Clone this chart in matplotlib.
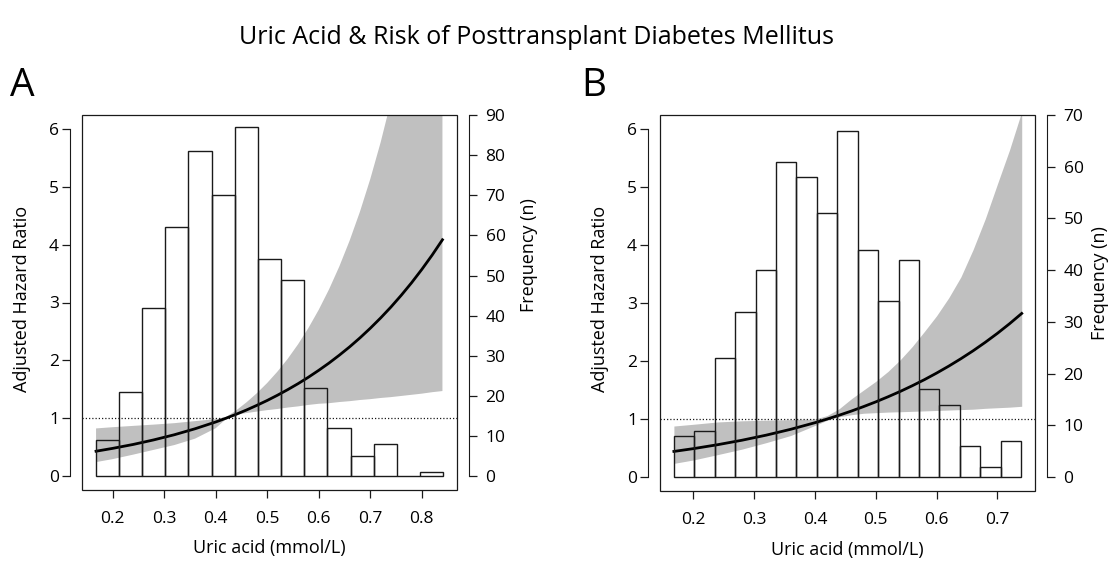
import matplotlib.pyplot as plt
import numpy as np
from matplotlib.patches import Rectangle

plt.rcParams["font.family"] = ["Open Sans", "DejaVu Sans"]

# ---- panel A: histogram of uric acid (counts) and adjusted HR curve ----
a_bins = (0.1677, 0.8413)
a_counts = [9, 21, 42, 62, 81, 70, 87, 54, 49, 22, 12, 5, 8, 0, 1]
a_x = [0.168, 0.20, 0.24, 0.28, 0.32, 0.36, 0.40, 0.42, 0.44, 0.46,
       0.48, 0.50, 0.52, 0.54, 0.56, 0.58, 0.60, 0.62, 0.64, 0.66,
       0.68, 0.70, 0.72, 0.74, 0.76, 0.78, 0.80, 0.82, 0.84]
a_hr = [0.430, 0.479, 0.547, 0.626, 0.715, 0.818, 0.935, 1.000, 1.069, 1.143,
        1.223, 1.307, 1.398, 1.495, 1.598, 1.709, 1.828, 1.954, 2.090, 2.234,
        2.389, 2.555, 2.732, 2.921, 3.124, 3.340, 3.572, 3.819, 4.084]
a_lo = [0.242, 0.293, 0.371, 0.454, 0.537, 0.647, 0.827, 0.985, 1.060, 1.090,
        1.115, 1.140, 1.160, 1.185, 1.205, 1.230, 1.250, 1.260, 1.280, 1.295,
        1.315, 1.330, 1.350, 1.365, 1.385, 1.405, 1.425, 1.450, 1.470]
a_hi = [0.824, 0.845, 0.868, 0.890, 0.915, 0.950, 0.985, 1.020, 1.136, 1.276,
        1.433, 1.609, 1.807, 2.029, 2.279, 2.559, 2.874, 3.227, 3.624, 4.070,
        4.570, 5.133, 5.764, 6.473, 7.269, 8.163, 9.167, 10.29, 11.56]
a_xticks = [0.2, 0.3, 0.4, 0.5, 0.6, 0.7, 0.8]
a_freq_ticks = list(range(0, 91, 10))

# ---- panel B ----
b_bins = (0.168, 0.739)
b_counts = [8, 9, 23, 32, 40, 61, 58, 51, 67, 44, 34, 42, 17, 14, 6, 2, 7]
b_x = [0.168, 0.20, 0.24, 0.28, 0.32, 0.36, 0.40, 0.42, 0.44, 0.46,
       0.48, 0.50, 0.52, 0.54, 0.56, 0.58, 0.60, 0.62, 0.64, 0.66,
       0.68, 0.70, 0.72, 0.74]
b_hr = [0.442, 0.490, 0.558, 0.635, 0.723, 0.823, 0.937, 1.000, 1.067, 1.138,
        1.215, 1.296, 1.383, 1.475, 1.574, 1.679, 1.792, 1.912, 2.040, 2.176,
        2.322, 2.477, 2.643, 2.820]
b_lo = [0.236, 0.295, 0.387, 0.482, 0.594, 0.716, 0.890, 0.980, 1.040, 1.075,
        1.100, 1.110, 1.120, 1.126, 1.133, 1.140, 1.148, 1.155, 1.163, 1.170,
        1.185, 1.195, 1.205, 1.220]
b_hi = [0.880, 0.910, 0.950, 0.970, 0.980, 0.990, 1.000, 1.060, 1.180, 1.350,
        1.500, 1.650, 1.820, 2.020, 2.250, 2.510, 2.780, 3.090, 3.450, 3.920,
        4.450, 5.050, 5.640, 6.300]
b_xticks = [0.2, 0.3, 0.4, 0.5, 0.6, 0.7]
b_freq_ticks = list(range(0, 71, 10))

hr_ticks = [0, 1, 2, 3, 4, 5, 6]
HR_LIM = (-0.24, 6.24)
BAND = "#c0c0c0"
INK = "#1a1a1a"
OFF = 8.6  # detached axis offset in points

fig = plt.figure(figsize=(11.12, 5.62), dpi=100)
fig.text(0.4825, 1 - 38 / 562, "Uric Acid & Risk of Posttransplant Diabetes Mellitus",
         ha="center", va="center", fontsize=18)


def panel(rect, letter, letter_x, bins, counts, x, hr, lo, hi, xticks, fticks,
          flab_x, flab_y):
    ax = fig.add_axes(rect)
    n = len(counts)
    edges = np.linspace(bins[0], bins[1], n + 1)
    rng = bins[1] - bins[0]
    ax.set_xlim(bins[0] - 0.04 * rng, bins[1] + 0.04 * rng)
    ax.set_ylim(*HR_LIM)

    ax.fill_between(x, lo, hi, color=BAND, lw=0, zorder=1)
    ax.axhline(1, color=INK, lw=0.9, ls=(0, (1, 1.6)), zorder=2)
    ax.plot(x, hr, color="black", lw=2.0, zorder=3)

    for s in ["top", "right", "bottom"]:
        ax.spines[s].set_visible(False)
    ax.spines["left"].set_position(("outward", OFF))
    ax.spines["left"].set_bounds(0, 6)
    ax.spines["left"].set_color(INK)
    ax.add_patch(Rectangle((0, 0), 1, 1, transform=ax.transAxes, fill=False,
                           ec=INK, lw=0.9, clip_on=False, zorder=5))
    ax.set_yticks(hr_ticks)
    ax.set_xticks(xticks)
    ax.set_xticklabels([f"{t:.1f}" for t in xticks])
    ax.tick_params(axis="y", length=6, width=0.9, labelsize=12.5, pad=2, color=INK)
    ax.tick_params(axis="x", length=6, width=0.9, labelsize=12.5, pad=9, color=INK)
    ax.set_ylabel("Adjusted Hazard Ratio", fontsize=13)
    ax.yaxis.set_label_coords(-0.135, 0.51)
    ax.set_xlabel("Uric acid (mmol/L)", fontsize=13)
    ax.xaxis.set_label_coords(0.5, -0.132)

    ax2 = ax.twinx()
    k = fticks[-1] / HR_LIM[1]
    ax2.set_ylim(HR_LIM[0] * k, fticks[-1] + 0.01)
    ax2.bar(edges[:-1], counts, width=np.diff(edges), align="edge", fill=False,
            edgecolor=INK, lw=1.0, zorder=2)
    for s in ["top", "left", "bottom"]:
        ax2.spines[s].set_visible(False)
    ax2.spines["right"].set_position(("outward", OFF))
    ax2.spines["right"].set_bounds(0, fticks[-1])
    ax2.spines["right"].set_color(INK)
    ax2.set_yticks(fticks)
    ax2.tick_params(axis="y", length=6, width=0.9, labelsize=12.5, pad=6, color=INK)
    ax2.set_ylabel("Frequency (n)", fontsize=13)
    ax2.yaxis.set_label_coords(flab_x, flab_y)

    fig.text(letter_x, 1 - 86 / 562, letter, fontsize=28, va="center")


panel([82 / 1112, 1 - 490 / 562, 375 / 1112, 375 / 562], "A", 10 / 1112,
      a_bins, a_counts, a_x, a_hr, a_lo, a_hi, a_xticks, a_freq_ticks, 1.168, 0.627)
panel([660 / 1112, 1 - 491 / 562, 375 / 1112, 376 / 562], "B", 581 / 1112,
      b_bins, b_counts, b_x, b_hr, b_lo, b_hi, b_xticks, b_freq_ticks, 1.150, 0.553)

fig.savefig("out.png", dpi=100, facecolor="white")
